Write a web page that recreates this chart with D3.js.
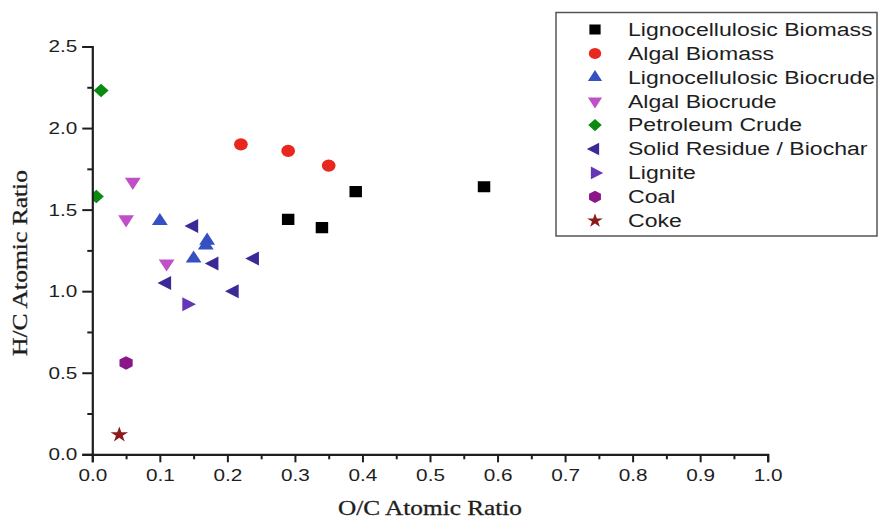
<!DOCTYPE html>
<html>
<head>
<meta charset="utf-8">
<script src="https://cdn.jsdelivr.net/npm/d3@7"></script>
<style>
  html, body { margin: 0; padding: 0; background: #fff; }
  svg { display: block; }
</style>
</head>
<body>
<svg id="chart" width="880" height="520"></svg>
<script>
// Van Krevelen diagram: H/C vs O/C atomic ratios
const seriesNames = [
  "Lignocellulosic Biomass", "Algal Biomass", "Lignocellulosic Biocrude",
  "Algal Biocrude", "Petroleum Crude", "Solid Residue / Biochar",
  "Lignite", "Coal", "Coke"
];
const seriesColors = [
  "#000000", "#e8281e", "#3550c0", "#c050c8", "#0b8a12",
  "#3a2a98", "#6436b8", "#8a168a", "#8b1a1a"
];
const seriesShapes = [
  "square", "circle", "triUp", "triDown", "diamond",
  "triLeft", "triRight", "hexagon", "star"
];

// [O/C, H/C] pairs per series
const lignoBiomass  = [[0.29, 1.44], [0.34, 1.39], [0.39, 1.61], [0.58, 1.64]];
const algalBiomass  = [[0.22, 1.90], [0.29, 1.86], [0.35, 1.77]];
const lignoBiocrude = [[0.10, 1.43], [0.15, 1.20], [0.17, 1.31], [0.168, 1.28]];
const algalBiocrude = [[0.05, 1.44], [0.06, 1.67], [0.11, 1.17]];
const petroleum     = [[0.013, 2.23], [0.006, 1.58]];
const solidResidue  = [[0.15, 1.40], [0.18, 1.17], [0.24, 1.20], [0.11, 1.05], [0.21, 1.00]];
const lignite       = [[0.14, 0.92]];
const coal          = [[0.05, 0.56]];
const coke          = [[0.04, 0.12]];
const seriesValues = [lignoBiomass, algalBiomass, lignoBiocrude, algalBiocrude,
  petroleum, solidResidue, lignite, coal, coke];

const xTicks = [0, 0.1, 0.2, 0.3, 0.4, 0.5, 0.6, 0.7, 0.8, 0.9, 1.0];
const yTicks = [0, 0.5, 1.0, 1.5, 2.0, 2.5];
const xMinor = [0.05, 0.15, 0.25, 0.35, 0.45, 0.55, 0.65, 0.75, 0.85, 0.95];
const yMinor = [0.25, 0.75, 1.25, 1.75, 2.25];

const svg = d3.select("#chart");
const ink = "#1e1e1e";
const sansFont = "'Liberation Sans', Arial, sans-serif";
const serifFont = "'Liberation Serif', 'Times New Roman', serif";

const x = d3.scaleLinear().domain([0, 1]).range([92.3, 767.7]);
const y = d3.scaleLinear().domain([0, 2.5]).range([454.3, 46.5]);

// widen a text element horizontally by factor k
function widen(sel, k) {
  sel.each(function () {
    const len = this.getComputedTextLength();
    d3.select(this).attr("textLength", len * k).attr("lengthAdjust", "spacingAndGlyphs");
  });
}

// symbol path generators
function hexPath(r) {
  const pts = d3.range(6).map(i => {
    const a = Math.PI / 6 + i * Math.PI / 3;
    return [r * Math.cos(a), r * Math.sin(a)];
  });
  return "M" + pts.map(p => p.join(",")).join("L") + "Z";
}
function shapePath(shape) {
  switch (shape) {
    case "square": return d3.symbol(d3.symbolSquare, 124)();
    case "circle": return d3.symbol(d3.symbolCircle, 118)();
    case "triUp": case "triDown": case "triLeft": case "triRight":
      return d3.symbol(d3.symbolTriangle, 86)();
    case "diamond": return d3.symbol(d3.symbolSquare, 90)();
    case "hexagon": return hexPath(6.8);
    case "star": return d3.symbol(d3.symbolStar, 76)();
  }
}
function shapeRotate(shape) {
  return { triDown: 180, triLeft: -90, triRight: 90, diamond: 45 }[shape] || 0;
}
const stretch = 1.12;

// clip markers to plot area
svg.append("defs").append("clipPath").attr("id", "plotClip")
  .append("rect")
  .attr("x", x(0)).attr("y", y(2.5) - 10)
  .attr("width", x(1) - x(0) + 10).attr("height", y(0) - y(2.5) + 10);

// markers
const plot = svg.append("g").attr("clip-path", "url(#plotClip)");
seriesValues.forEach((vals, si) => {
  plot.selectAll(null).data(vals).enter().append("path")
    .attr("d", shapePath(seriesShapes[si]))
    .attr("transform", d => `translate(${x(d[0])},${y(d[1])}) scale(${stretch},1) rotate(${shapeRotate(seriesShapes[si])})`)
    .attr("fill", seriesColors[si]);
});

// axes
const xAxis = svg.append("g").attr("transform", `translate(0,${y(0)})`)
  .call(d3.axisBottom(x).tickValues(xTicks).tickSize(8).tickPadding(7).tickFormat(d3.format(".1f")));
const xAxisMinor = svg.append("g").attr("transform", `translate(0,${y(0)})`)
  .call(d3.axisBottom(x).tickValues(xMinor).tickSize(5).tickFormat(""));
const yAxis = svg.append("g").attr("transform", `translate(${x(0)},0)`)
  .call(d3.axisLeft(y).tickValues(yTicks).tickSize(10).tickPadding(5).tickFormat(d3.format(".1f")));
const yAxisMinor = svg.append("g").attr("transform", `translate(${x(0)},0)`)
  .call(d3.axisLeft(y).tickValues(yMinor).tickSize(5).tickFormat(""));

[xAxis, xAxisMinor, yAxis, yAxisMinor].forEach(a => {
  a.select(".domain").attr("stroke", ink).attr("stroke-width", 2.2);
  a.selectAll(".tick line").attr("stroke", ink).attr("stroke-width", 2);
  a.selectAll(".tick text").attr("fill", ink).attr("font-family", sansFont).attr("font-size", 17);
});
xAxisMinor.select(".domain").remove();
yAxisMinor.select(".domain").remove();
widen(xAxis.selectAll(".tick text"), 1.22);
widen(yAxis.selectAll(".tick text"), 1.22);

// axis titles
svg.append("text")
  .attr("x", 430).attr("y", 515).attr("text-anchor", "middle")
  .attr("font-family", serifFont).attr("font-size", 20).attr("fill", ink)
  .attr("stroke", ink).attr("stroke-width", 0.3)
  .attr("textLength", 184).attr("lengthAdjust", "spacingAndGlyphs")
  .text("O/C Atomic Ratio");
svg.append("text")
  .attr("transform", "translate(27,263) rotate(-90)").attr("text-anchor", "middle")
  .attr("font-family", serifFont).attr("font-size", 20).attr("fill", ink)
  .attr("stroke", ink).attr("stroke-width", 0.3)
  .attr("textLength", 186).attr("lengthAdjust", "spacingAndGlyphs")
  .text("H/C Atomic Ratio");

// legend
const legend = svg.append("g");
legend.append("rect")
  .attr("x", 556).attr("y", 12.5).attr("width", 321).attr("height", 223.5)
  .attr("fill", "#fff").attr("stroke", "#555").attr("stroke-width", 1.5);
const rowY = d3.scaleLinear().domain([0, 8]).range([29.5, 220.7]);
seriesNames.forEach((name, i) => {
  const cy = rowY(i);
  legend.append("path")
    .attr("d", shapePath(seriesShapes[i]))
    .attr("transform", `translate(595,${cy}) scale(${stretch * 0.9},0.9) rotate(${shapeRotate(seriesShapes[i])})`)
    .attr("fill", seriesColors[i]);
  const t = legend.append("text")
    .attr("x", 628).attr("y", cy + 6.3)
    .attr("font-family", sansFont).attr("font-size", 18).attr("fill", ink)
    .text(name);
  widen(t, 1.28);
});
</script>
</body>
</html>
